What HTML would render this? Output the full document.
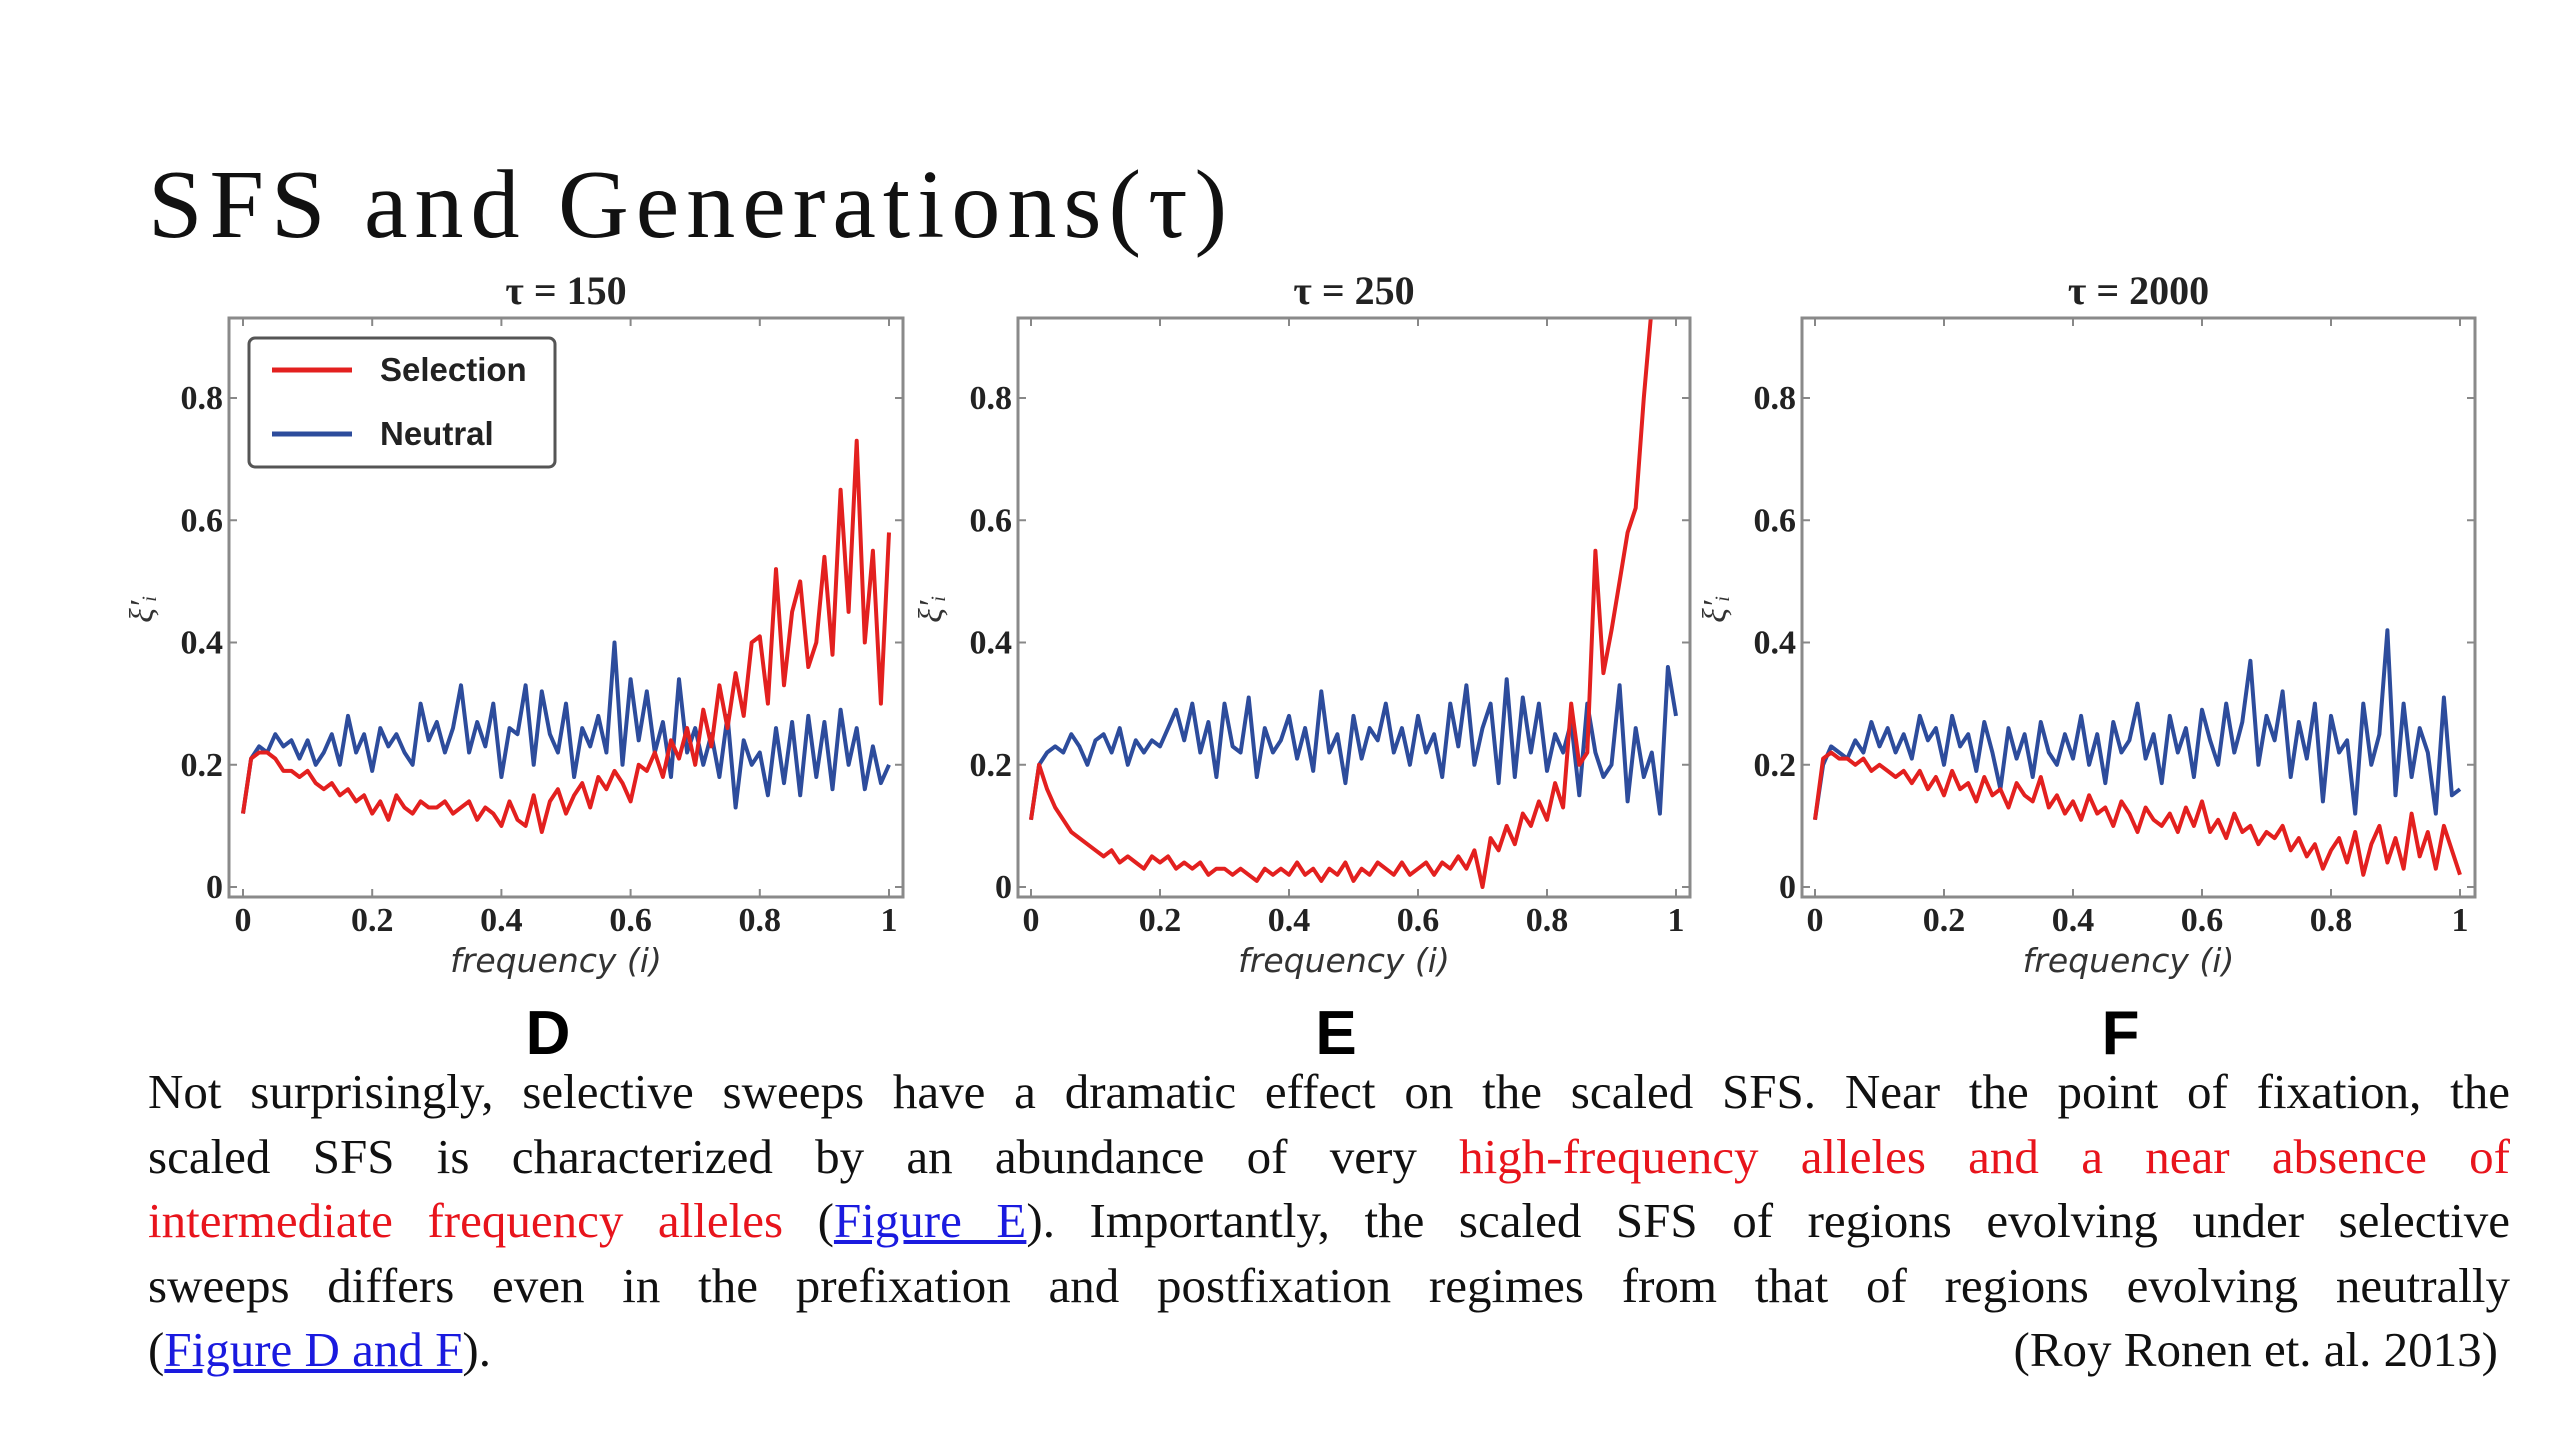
<!DOCTYPE html>
<html><head><meta charset="utf-8"><style>
html,body{margin:0;padding:0;background:#fff;width:2560px;height:1440px;overflow:hidden}
#title{position:absolute;left:148px;top:156px;font-family:"Liberation Serif",serif;font-size:98px;letter-spacing:7px;color:#111;margin:0;font-weight:normal;line-height:1}
#para{position:absolute;left:148px;top:1060px;width:2362px;font-family:"Liberation Serif",serif;font-size:49px;line-height:64.5px;color:#111}
.ln{text-align:justify;text-align-last:justify;white-space:nowrap}
.red{color:#e8141c}
a{color:#1a1adf;text-decoration:underline}
#lastline{display:flex;justify-content:space-between;padding-right:12px}
svg{position:absolute;left:0;top:0}
</style></head><body>
<h1 id="title">SFS and Generations(τ)</h1>
<svg id="chart" width="2560" height="1440"></svg>
<div id="para">
<div class="ln">Not surprisingly, selective sweeps have a dramatic effect on the scaled SFS. Near the point of fixation, the</div>
<div class="ln">scaled SFS is characterized by an abundance of very <span class="red">high-frequency alleles and a near absence of</span></div>
<div class="ln"><span class="red">intermediate frequency alleles</span> (<a>Figure E</a>). Importantly, the scaled SFS of regions evolving under selective</div>
<div class="ln">sweeps differs even in the prefixation and postfixation regimes from that of regions evolving neutrally</div>
<div id="lastline"><span>(<a>Figure D and F</a>).</span><span>(Roy Ronen et. al. 2013)</span></div></div>
<script>
const xTicks=[0,0.2,0.4,0.6,0.8,1];
const xTickLabels=["0","0.2","0.4","0.6","0.8","1"];
const yTicks=[0,0.2,0.4,0.6,0.8];
const yTickLabels=["0","0.2","0.4","0.6","0.8"];
const titles=["τ = 150","τ = 250","τ = 2000"];
const panelLetters=["D","E","F"];
const dSelection=[0.12,0.21,0.22,0.22,0.21,0.19,0.19,0.18,0.19,0.17,0.16,0.17,0.15,0.16,0.14,0.15,0.12,0.14,0.11,0.15,0.13,0.12,0.14,0.13,0.13,0.14,0.12,0.13,0.14,0.11,0.13,0.12,0.10,0.14,0.11,0.10,0.15,0.09,0.14,0.16,0.12,0.15,0.17,0.13,0.18,0.16,0.19,0.17,0.14,0.20,0.19,0.22,0.18,0.24,0.21,0.26,0.20,0.29,0.23,0.33,0.26,0.35,0.28,0.40,0.41,0.30,0.52,0.33,0.45,0.50,0.36,0.40,0.54,0.38,0.65,0.45,0.73,0.40,0.55,0.30,0.58];
const dNeutral=[0.12,0.21,0.23,0.22,0.25,0.23,0.24,0.21,0.24,0.20,0.22,0.25,0.20,0.28,0.22,0.25,0.19,0.26,0.23,0.25,0.22,0.20,0.30,0.24,0.27,0.22,0.26,0.33,0.22,0.27,0.23,0.30,0.18,0.26,0.25,0.33,0.20,0.32,0.25,0.22,0.30,0.18,0.26,0.23,0.28,0.22,0.40,0.20,0.34,0.24,0.32,0.22,0.27,0.18,0.34,0.22,0.26,0.20,0.25,0.18,0.28,0.13,0.24,0.20,0.22,0.15,0.26,0.17,0.27,0.15,0.28,0.18,0.27,0.16,0.29,0.20,0.26,0.16,0.23,0.17,0.20];
const eSelection=[0.11,0.20,0.16,0.13,0.11,0.09,0.08,0.07,0.06,0.05,0.06,0.04,0.05,0.04,0.03,0.05,0.04,0.05,0.03,0.04,0.03,0.04,0.02,0.03,0.03,0.02,0.03,0.02,0.01,0.03,0.02,0.03,0.02,0.04,0.02,0.03,0.01,0.03,0.02,0.04,0.01,0.03,0.02,0.04,0.03,0.02,0.04,0.02,0.03,0.04,0.02,0.04,0.03,0.05,0.03,0.06,0.00,0.08,0.06,0.10,0.07,0.12,0.10,0.14,0.11,0.17,0.13,0.30,0.20,0.22,0.55,0.35,0.42,0.50,0.58,0.62,0.80,0.95];
const eNeutral=[0.11,0.20,0.22,0.23,0.22,0.25,0.23,0.20,0.24,0.25,0.22,0.26,0.20,0.24,0.22,0.24,0.23,0.26,0.29,0.24,0.30,0.22,0.27,0.18,0.30,0.23,0.22,0.31,0.18,0.26,0.22,0.24,0.28,0.21,0.26,0.19,0.32,0.22,0.25,0.17,0.28,0.21,0.26,0.24,0.30,0.22,0.26,0.20,0.28,0.22,0.25,0.18,0.30,0.23,0.33,0.20,0.26,0.30,0.17,0.34,0.18,0.31,0.22,0.30,0.19,0.25,0.22,0.27,0.15,0.30,0.22,0.18,0.20,0.33,0.14,0.26,0.18,0.22,0.12,0.36,0.28];
const fSelection=[0.11,0.21,0.22,0.21,0.21,0.20,0.21,0.19,0.20,0.19,0.18,0.19,0.17,0.19,0.16,0.18,0.15,0.19,0.16,0.17,0.14,0.18,0.15,0.16,0.13,0.17,0.15,0.14,0.18,0.13,0.15,0.12,0.14,0.11,0.15,0.12,0.13,0.10,0.14,0.12,0.09,0.13,0.11,0.10,0.12,0.09,0.13,0.10,0.14,0.09,0.11,0.08,0.12,0.09,0.10,0.07,0.09,0.08,0.10,0.06,0.08,0.05,0.07,0.03,0.06,0.08,0.04,0.09,0.02,0.07,0.10,0.04,0.08,0.03,0.12,0.05,0.09,0.03,0.10,0.06,0.02];
const fNeutral=[0.11,0.20,0.23,0.22,0.21,0.24,0.22,0.27,0.23,0.26,0.22,0.25,0.21,0.28,0.24,0.26,0.20,0.28,0.23,0.25,0.19,0.27,0.22,0.16,0.26,0.21,0.25,0.18,0.27,0.22,0.20,0.25,0.21,0.28,0.20,0.25,0.17,0.27,0.22,0.24,0.30,0.21,0.25,0.17,0.28,0.22,0.26,0.18,0.29,0.24,0.20,0.30,0.22,0.27,0.37,0.20,0.28,0.24,0.32,0.18,0.27,0.21,0.30,0.14,0.28,0.22,0.24,0.12,0.30,0.20,0.25,0.42,0.15,0.30,0.18,0.26,0.22,0.12,0.31,0.15,0.16];
const xStep=0.0125;

const NS="http://www.w3.org/2000/svg";
const svg=document.getElementById('chart');
function mk(tag,attrs,parent){const e=document.createElementNS(NS,tag);for(const k in attrs)e.setAttribute(k,attrs[k]);(parent||svg).appendChild(e);return e;}
const panels=[
 {box:[229,903],x0:243,x1:889,sel:dSelection,neu:dNeutral},
 {box:[1018,1690],x0:1031,x1:1676,sel:eSelection,neu:eNeutral},
 {box:[1802,2475],x0:1815,x1:2460,sel:fSelection,neu:fNeutral}];
const plotTop=318,plotBottom=897,yZero=887,yUnit=(887-398)/0.8;
const RED="#e3201f",BLUE="#2d4c9c";
panels.forEach((p,pi)=>{
 const g=mk('g',{});
 
 
 const xs=v=>p.x0+v*(p.x1-p.x0);
 const ys=v=>yZero-v*yUnit;
 const cp=mk('clipPath',{id:'clip'+pi},g);
 mk('rect',{x:p.box[0],y:plotTop,width:p.box[1]-p.box[0],height:plotBottom-plotTop},cp);
 [[p.neu,BLUE,'neutral-line'],[p.sel,RED,'selection-line']].forEach(([arr,c,n])=>{
  const pts=arr.map((v,i)=>xs(i*xStep).toFixed(1)+','+ys(v).toFixed(1)).join(' ');
  const l=mk('polyline',{points:pts,fill:'none',stroke:c,'stroke-width':4,'stroke-linejoin':'round','clip-path':'url(#clip'+pi+')'},g);
  
  
 });
 const fr=mk('rect',{x:p.box[0],y:plotTop,width:p.box[1]-p.box[0],height:plotBottom-plotTop,fill:'none',stroke:'#8a8a8a','stroke-width':3},g);
 
 
 xTicks.forEach((t,i)=>{
  const x=xs(t);
  mk('line',{x1:x,x2:x,y1:plotBottom,y2:plotBottom-8,stroke:'#888','stroke-width':2},g);
  mk('line',{x1:x,x2:x,y1:plotTop,y2:plotTop+8,stroke:'#888','stroke-width':2},g);
  const tx=mk('text',{x:x,y:plotBottom+34,'text-anchor':'middle','font-family':'Liberation Serif,serif','font-size':34,'font-weight':'bold',fill:'#222'},g);
  tx.textContent=xTickLabels[i];
  
  
 });
 yTicks.forEach((t,i)=>{
  const y=ys(t);
  mk('line',{x1:p.box[0],x2:p.box[0]+8,y1:y,y2:y,stroke:'#888','stroke-width':2},g);
  mk('line',{x1:p.box[1],x2:p.box[1]-8,y1:y,y2:y,stroke:'#888','stroke-width':2},g);
  const tx=mk('text',{x:p.box[0]-6,y:y+11,'text-anchor':'end','font-family':'Liberation Serif,serif','font-size':34,'font-weight':'bold',fill:'#222'},g);
  tx.textContent=yTickLabels[i];
  
  
 });
 const cx=(p.box[0]+p.box[1])/2;
 const tt=mk('text',{x:cx,y:304,'text-anchor':'middle','font-family':'Liberation Serif,serif','font-size':40,'font-weight':'bold',fill:'#222'},g);
 tt.textContent=titles[pi];
 
 
 const xl=mk('text',{x:cx-10,y:972,'text-anchor':'middle','font-family':'DejaVu Sans,sans-serif','font-size':33,'font-style':'italic',fill:'#333'},g);
 xl.textContent='frequency (i)';
 
 
 const yl=mk('text',{x:0,y:0,'text-anchor':'middle','font-family':'Liberation Serif,serif','font-size':34,'font-style':'italic',fill:'#333',transform:'translate('+(p.box[0]-76)+',609) rotate(-90)'},g);
 yl.textContent="ξ′ᵢ";
 
 
 const lt=mk('text',{x:cx-18,y:1054,'text-anchor':'middle','font-family':'Liberation Sans,sans-serif','font-size':62,'font-weight':'bold',fill:'#000'},g);
 lt.textContent=panelLetters[pi];
 
 
});
const lg=mk('g',{});


mk('rect',{x:249,y:338,width:306,height:129,rx:6,fill:'#fff',stroke:'#555','stroke-width':3},lg);
[[RED,'Selection',370],[BLUE,'Neutral',434]].forEach(([c,t,y])=>{
 const e=mk('g',{},lg);
 
 
 mk('line',{x1:272,x2:352,y1:y,y2:y,stroke:c,'stroke-width':5},e);
 const tx=mk('text',{x:380,y:y+11,'font-family':'Liberation Sans,sans-serif','font-size':33,'font-weight':'bold',fill:'#222'},e);
 tx.textContent=t;
});
</script>
</body></html>
